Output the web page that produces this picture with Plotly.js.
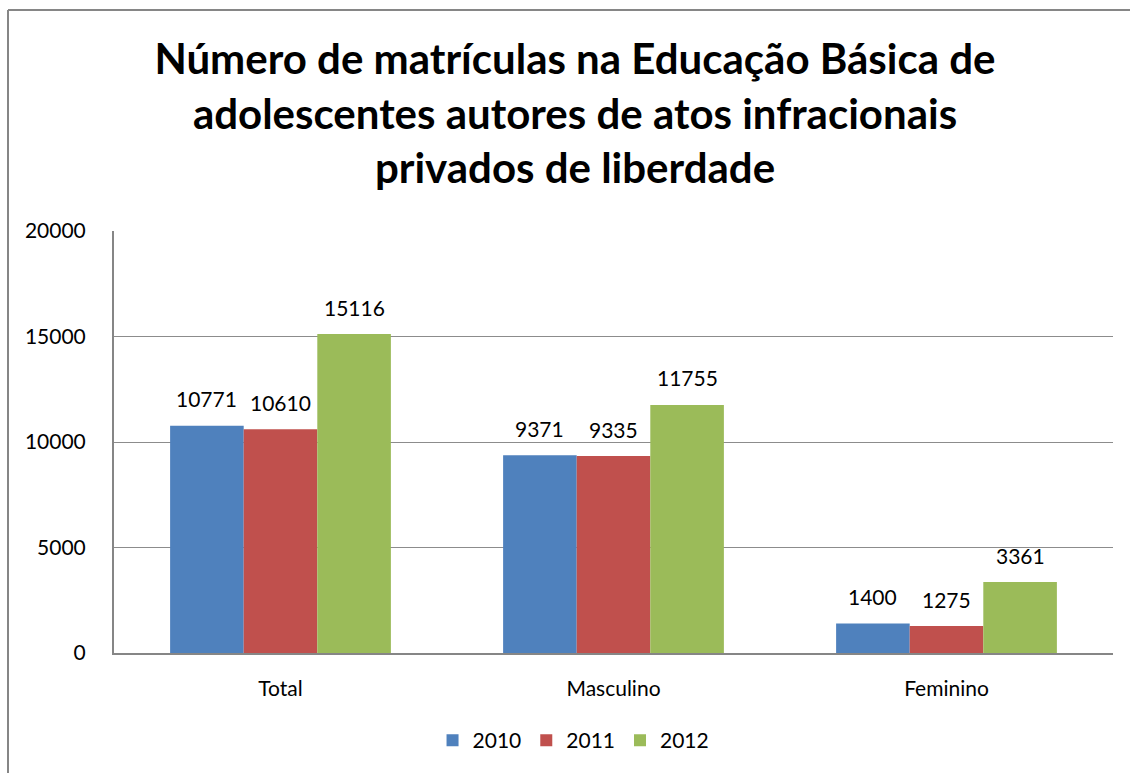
<!DOCTYPE html>
<html>
<head>
<meta charset="utf-8">
<script src="https://cdn.plot.ly/plotly-3.0.1.min.js"></script>
<style>
  html, body { margin: 0; padding: 0; background: #fff; }
  #chart { width: 1130px; height: 773px; }
</style>
</head>
<body>
<div id="chart"></div>
<script>
const categories = ["Total", "Masculino", "Feminino"];
const years = ["2010", "2011", "2012"];
const values2010 = [10771, 9371, 1400];
const values2011 = [10610, 9335, 1275];
const values2012 = [15116, 11755, 3361];
const yTicks = [0, 5000, 10000, 15000, 20000];
const colors = ["#4F81BD", "#C0504D", "#9BBB59"];
const seriesValues = [values2010, values2011, values2012];

const FONT = "Lato, 'Noto Sans', sans-serif";

const traces = seriesValues.map((vals, i) => ({
  type: "bar",
  name: years[i],
  x: categories,
  y: vals,
  marker: { color: colors[i] },
  hoverinfo: "x+y+name"
}));

// plot-area geometry
const L = 114, R = 17, T = 231, B = 118;
const W = 1130 - L - R, H = 773 - T - B;
const bargap = 0.337;
const barPx = (W / categories.length) * (1 - bargap) / years.length;

const annotations = [];
seriesValues.forEach((vals, i) => {
  vals.forEach((v, j) => {
    annotations.push({
      x: categories[j], y: v, xref: "x", yref: "y",
      text: String(v), showarrow: false,
      xshift: (i - 1) * barPx, yshift: 27,
      yanchor: "middle", xanchor: "center",
      font: { family: FONT, size: 21, color: "#000" }
    });
  });
});

const px2x = p => (p - L) / W;
const px2y = p => (773 - B - p) / H;

const layout = {
  width: 1130, height: 773,
  margin: { l: L, r: R, t: T, b: B, pad: 0 },
  paper_bgcolor: "#fff", plot_bgcolor: "#fff",
  title: {
    text: "Número de matrículas na Educação Básica de<br>adolescentes autores de atos infracionais<br>privados de liberdade",
    font: { family: FONT, size: 42, color: "#000", weight: "bold" },
    x: 575 / 1130, xanchor: "center", xref: "container",
    y: 1 - 74 / 773, yanchor: "top", yref: "container"
  },
  barmode: "group",
  bargap: bargap,
  bargroupgap: 0,
  showlegend: true,
  legend: {
    orientation: "h", x: 0.46, xanchor: "center", y: px2y(743), yanchor: "middle",
    font: { family: FONT, size: 21, color: "#000" },
    itemwidth: 30, tracegroupgap: 0, traceorder: "normal"
  },
  xaxis: {
    type: "category",
    showgrid: false, zeroline: false,
    showline: true, linecolor: "#868686", linewidth: 2,
    ticks: "", ticklabelstandoff: 16,
    tickfont: { family: FONT, size: 21, color: "#000" },
    fixedrange: true
  },
  yaxis: {
    range: [0, 20000],
    tickvals: yTicks, ticktext: yTicks.map(String),
    showgrid: true, gridcolor: "#8c8c8c", gridwidth: 1,
    zeroline: false,
    showline: true, linecolor: "#868686", linewidth: 2,
    ticks: "", ticklabelstandoff: 22,
    tickfont: { family: FONT, size: 21, color: "#000" },
    fixedrange: true
  },
  annotations: annotations,
  shapes: [
    { type: "line", xref: "paper", yref: "paper",
      x0: px2x(8), x1: px2x(8), y0: px2y(9), y1: px2y(800),
      line: { color: "#868686", width: 2 } },
    { type: "line", xref: "paper", yref: "paper",
      x0: px2x(8), x1: px2x(1140), y0: px2y(9), y1: px2y(9),
      line: { color: "#868686", width: 2 } }
  ]
};

Plotly.newPlot("chart", traces, layout, { displayModeBar: false, staticPlot: false });
</script>
</body>
</html>
